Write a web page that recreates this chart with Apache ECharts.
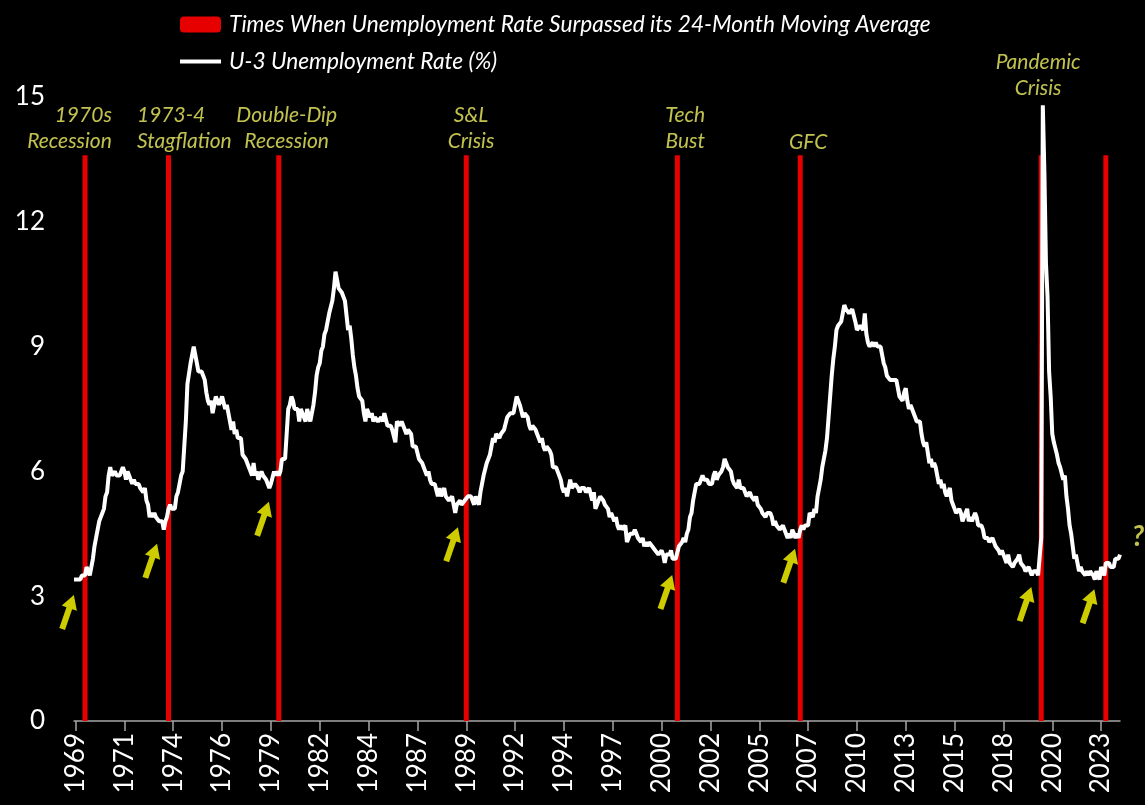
<!DOCTYPE html>
<html>
<head>
<meta charset="utf-8">
<script src="https://cdn.jsdelivr.net/npm/echarts@6/dist/echarts.min.js"></script>
<style>
  html, body { margin: 0; padding: 0; background: #000; }
  #chart { width: 1145px; height: 805px; }
</style>
</head>
<body>
<div id="chart"></div>
<script>
// monthly U-3 rate, first value is Jan 1969
const rate1960s = [3.4, 3.4, 3.4, 3.4, 3.4, 3.5, 3.5, 3.5, 3.7, 3.7, 3.5, 3.5];
const rate1970s = [
  3.9, 4.2, 4.4, 4.6, 4.8, 4.9, 5.0, 5.1, 5.4, 5.5, 5.9, 6.1,
  5.9, 5.9, 6.0, 5.9, 5.9, 5.9, 6.0, 6.1, 6.0, 5.8, 6.0, 6.0,
  5.8, 5.7, 5.8, 5.7, 5.7, 5.7, 5.6, 5.6, 5.5, 5.6, 5.3, 5.2,
  4.9, 5.0, 4.9, 5.0, 4.9, 4.9, 4.8, 4.8, 4.8, 4.6, 4.8, 4.9,
  5.1, 5.2, 5.1, 5.1, 5.1, 5.4, 5.5, 5.5, 5.9, 6.0, 6.6, 7.2,
  8.1, 8.1, 8.6, 8.8, 9.0, 8.8, 8.6, 8.4, 8.4, 8.4, 8.3, 8.2,
  7.9, 7.7, 7.6, 7.7, 7.4, 7.6, 7.8, 7.8, 7.6, 7.7, 7.8, 7.8,
  7.5, 7.6, 7.4, 7.2, 7.0, 7.2, 6.9, 7.0, 6.8, 6.8, 6.8, 6.4,
  6.4, 6.3, 6.3, 6.1, 6.0, 5.9, 6.2, 5.9, 6.0, 5.8, 5.9, 6.0,
  5.9, 5.9, 5.8, 5.8, 5.6, 5.7, 5.7, 6.0, 5.9, 6.0, 5.9, 6.0
];
const rate1980s = [
  6.3, 6.3, 6.3, 6.9, 7.5, 7.6, 7.8, 7.7, 7.5, 7.5, 7.5, 7.2,
  7.5, 7.4, 7.4, 7.2, 7.5, 7.5, 7.2, 7.4, 7.6, 7.9, 8.3, 8.5,
  8.6, 8.9, 9.0, 9.3, 9.4, 9.6, 9.8, 9.8, 10.1, 10.4, 10.8, 10.8,
  10.4, 10.4, 10.3, 10.2, 10.1, 10.1, 9.4, 9.5, 9.2, 8.8, 8.5, 8.3,
  8.0, 7.8, 7.8, 7.7, 7.4, 7.2, 7.5, 7.5, 7.3, 7.4, 7.2, 7.3,
  7.3, 7.2, 7.2, 7.3, 7.2, 7.4, 7.4, 7.1, 7.1, 7.1, 7.0, 7.0,
  6.7, 7.2, 7.2, 7.1, 7.2, 7.2, 7.0, 6.9, 7.0, 7.0, 6.9, 6.6,
  6.6, 6.6, 6.6, 6.3, 6.3, 6.2, 6.1, 6.0, 5.9, 6.0, 5.8, 5.7,
  5.7, 5.7, 5.7, 5.4, 5.6, 5.4, 5.4, 5.6, 5.4, 5.4, 5.3, 5.3,
  5.4, 5.2, 5.0, 5.2, 5.2, 5.3, 5.2, 5.2, 5.3, 5.3, 5.4, 5.4
];
const rate1990s = [
  5.4, 5.3, 5.2, 5.4, 5.4, 5.2, 5.5, 5.7, 5.9, 5.9, 6.2, 6.3,
  6.4, 6.6, 6.8, 6.7, 6.9, 6.9, 6.8, 6.9, 6.9, 7.0, 7.0, 7.3,
  7.3, 7.4, 7.4, 7.4, 7.6, 7.8, 7.7, 7.6, 7.6, 7.3, 7.4, 7.4,
  7.3, 7.1, 7.0, 7.1, 7.1, 7.0, 6.9, 6.8, 6.7, 6.8, 6.6, 6.5,
  6.6, 6.6, 6.5, 6.4, 6.1, 6.1, 6.1, 6.0, 5.9, 5.8, 5.6, 5.5,
  5.6, 5.4, 5.4, 5.8, 5.6, 5.6, 5.7, 5.7, 5.6, 5.5, 5.6, 5.6,
  5.6, 5.5, 5.5, 5.6, 5.6, 5.3, 5.5, 5.1, 5.2, 5.2, 5.4, 5.4,
  5.3, 5.2, 5.2, 5.1, 4.9, 5.0, 4.9, 4.8, 4.9, 4.7, 4.6, 4.7,
  4.6, 4.6, 4.7, 4.3, 4.4, 4.5, 4.5, 4.5, 4.6, 4.5, 4.4, 4.4,
  4.3, 4.4, 4.2, 4.3, 4.2, 4.3, 4.3, 4.2, 4.2, 4.1, 4.1, 4.0
];
const rate2000s = [
  4.0, 4.1, 4.0, 3.8, 4.0, 4.0, 4.0, 4.1, 3.9, 3.9, 3.9, 3.9,
  4.2, 4.2, 4.3, 4.4, 4.3, 4.5, 4.6, 4.9, 5.0, 5.3, 5.5, 5.7,
  5.7, 5.7, 5.7, 5.9, 5.8, 5.8, 5.8, 5.7, 5.7, 5.7, 5.9, 6.0,
  5.8, 5.9, 5.9, 6.0, 6.1, 6.3, 6.2, 6.1, 6.1, 6.0, 5.8, 5.7,
  5.7, 5.6, 5.8, 5.6, 5.6, 5.6, 5.5, 5.4, 5.4, 5.5, 5.4, 5.4,
  5.3, 5.4, 5.2, 5.2, 5.1, 5.0, 5.0, 4.9, 5.0, 5.0, 5.0, 4.9,
  4.7, 4.8, 4.7, 4.7, 4.6, 4.6, 4.7, 4.7, 4.5, 4.4, 4.5, 4.4,
  4.6, 4.5, 4.4, 4.5, 4.4, 4.6, 4.7, 4.6, 4.7, 4.7, 4.7, 5.0,
  5.0, 4.9, 5.1, 5.0, 5.4, 5.6, 5.8, 6.1, 6.1, 6.5, 6.8, 7.3,
  7.8, 8.3, 8.7, 9.0, 9.4, 9.5, 9.5, 9.6, 9.8, 10.0, 9.9, 9.9
];
const rate2010s = [
  9.8, 9.8, 9.9, 9.9, 9.6, 9.4, 9.4, 9.5, 9.5, 9.4, 9.8, 9.3,
  9.1, 9.0, 9.0, 9.1, 9.0, 9.1, 9.0, 9.0, 9.0, 8.8, 8.6, 8.5,
  8.3, 8.3, 8.2, 8.2, 8.2, 8.2, 8.2, 8.0, 7.8, 7.8, 7.7, 7.9,
  8.0, 7.7, 7.5, 7.6, 7.5, 7.5, 7.3, 7.2, 7.2, 7.2, 6.9, 6.7,
  6.6, 6.7, 6.7, 6.2, 6.3, 6.1, 6.2, 6.1, 5.9, 5.7, 5.8, 5.6,
  5.7, 5.5, 5.4, 5.4, 5.6, 5.3, 5.2, 5.1, 5.0, 5.0, 5.1, 5.0,
  4.8, 4.9, 5.0, 5.1, 4.8, 4.9, 4.8, 4.9, 5.0, 4.9, 4.7, 4.7,
  4.7, 4.6, 4.4, 4.4, 4.4, 4.3, 4.3, 4.4, 4.3, 4.2, 4.2, 4.1,
  4.0, 4.1, 4.0, 4.0, 3.8, 4.0, 3.8, 3.8, 3.7, 3.8, 3.8, 3.9,
  4.0, 3.8, 3.8, 3.7, 3.6, 3.6, 3.7, 3.6, 3.5, 3.6, 3.6, 3.6
];
const rate2020s = [
  3.5, 3.5, 4.4, 14.8, 13.2, 11.0, 10.2, 8.4, 7.8, 6.9, 6.7, 6.7,
  6.4, 6.2, 6.1, 6.1, 5.8, 5.9, 5.4, 5.1, 4.7, 4.5, 4.2, 3.9,
  4.0, 3.8, 3.6, 3.7, 3.6, 3.6, 3.5, 3.6, 3.5, 3.6, 3.6, 3.5,
  3.4, 3.6, 3.5, 3.4, 3.7, 3.6, 3.5, 3.8, 3.8, 3.8, 3.7, 3.7,
  3.7, 3.9, 3.9, 3.9, 4.0
];

// months where the rate crossed above its 24-month average (red bars)
const signalMonths = ['1969-08', '1974-01', '1979-11', '1989-10', '2000-12', '2007-06', '2020-03', '2023-08'];
const signalTop = 13.6;

// yellow arrows under the troughs: [month, value at arrow centre]
const arrowPoints = [
  ['1969-01', 2.62], ['1973-02', 3.85], ['1979-01', 4.86], ['1989-01', 4.25],
  ['2000-05', 3.1], ['2006-11', 3.73], ['2019-05', 2.81], ['2022-09', 2.76]
];

// event captions: [month, value, text]
const captions = [
  ['1971-01', 14.25, '1970s\nRecession'],
  ['1972-05', 14.25, '1973-4\nStagflation'],
  ['1980-04', 14.25, 'Double-Dip\nRecession'],
  ['1990-01', 14.25, 'S&L\nCrisis'],
  ['2001-05', 14.25, 'Tech\nBust'],
  ['2007-11', 13.92, 'GFC'],
  ['2020-01', 15.53, 'Pandemic\nCrisis'],
  ['2024-05', 4.42, '?']
];
const captionAlign = ['right', 'left', 'center', 'center', 'center', 'center', 'center', 'center'];

const rates = [].concat(rate1960s, rate1970s, rate1980s, rate1990s, rate2000s, rate2010s, rate2020s);
const months = rates.map((v, i) => {
  const y = 1969 + Math.floor(i / 12);
  const m = (i % 12) + 1;
  return y + '-' + (m < 10 ? '0' + m : m);
});

const barName = 'Times When Unemployment Rate Surpassed its 24-Month Moving Average';
const lineName = 'U-3 Unemployment Rate (%)';
const showTick = (idx) => idx % 31 === 1;
const font = 'Lato, "Open Sans", sans-serif';
const yellowText = '#f2f264';

const chart = echarts.init(document.getElementById('chart'));

chart.setOption({
  backgroundColor: '#000',
  animation: false,
  legend: {
    orient: 'vertical',
    left: 173,
    top: 8,
    itemWidth: 41,
    itemHeight: 16,
    itemGap: 14,
    data: [
      barName,
      { name: lineName, itemStyle: { opacity: 0 }, lineStyle: { width: 4, color: '#fff' } },
    ],
    textStyle: {
      color: '#fff',
      fontSize: 22.7,
      fontStyle: 'italic',
      fontFamily: font,
      padding: [0, 0, 0, 3],
    },
  },
  grid: { left: 74, right: 25, top: 97, bottom: 84 },
  xAxis: {
    type: 'category',
    data: months,
    boundaryGap: false,
    axisLine: { lineStyle: { color: '#a6a6a6', width: 1.5 } },
    axisTick: { interval: showTick, length: 10, lineStyle: { color: '#a6a6a6', width: 1.5 } },
    axisLabel: {
      interval: showTick,
      rotate: 90,
      margin: 12,
      color: '#fff',
      fontSize: 26,
      fontFamily: font,
      formatter: (v) => v.slice(0, 4),
    },
    splitLine: { show: false },
  },
  yAxis: {
    type: 'value',
    min: 0,
    max: 15,
    interval: 3,
    axisLine: { show: false },
    axisTick: { show: false },
    splitLine: { show: false },
    axisLabel: { color: '#fff', fontSize: 26, margin: 29, fontFamily: font },
  },
  series: [
    {
      name: barName,
      type: 'bar',
      barWidth: 5,
      z: 1,
      itemStyle: { color: '#e60000' },
      data: signalMonths.map((m) => [m, signalTop]),
    },
    {
      name: lineName,
      type: 'line',
      symbol: 'none',
      z: 3,
      color: '#fff',
      lineStyle: { color: '#fff', width: 4 },
      data: rates,
    },
    {
      name: 'arrows',
      type: 'scatter',
      clip: false,
      z: 4,
      symbol: 'path://M8,0 L16,14 L11,14 L11,36 L5,36 L5,14 L0,14 Z',
      symbolSize: [16, 36],
      symbolRotate: -19,
      itemStyle: { color: '#ffff00' },
      data: arrowPoints.map((p, i) => (i === 0 ? { value: p, symbolOffset: [-6, 0] } : p)),
    },
    {
      name: 'captions',
      type: 'scatter',
      clip: false,
      z: 5,
      symbolSize: 0,
      data: captions.map((c, i) => {
        const last = i === captions.length - 1;
        return {
          value: [c[0], c[1]],
          label: {
            show: true,
            position: last ? [18, 0] : 'inside',
            formatter: c[2],
            align: captionAlign[i],
            verticalAlign: 'middle',
            color: yellowText,
            fontSize: last ? 28 : 21,
            fontWeight: last ? 'bold' : 'normal',
            fontStyle: 'italic',
            fontFamily: font,
            lineHeight: 26,
          },
        };
      }),
    },
  ],
});

window.onresize = chart.resize;
</script>
</body>
</html>
